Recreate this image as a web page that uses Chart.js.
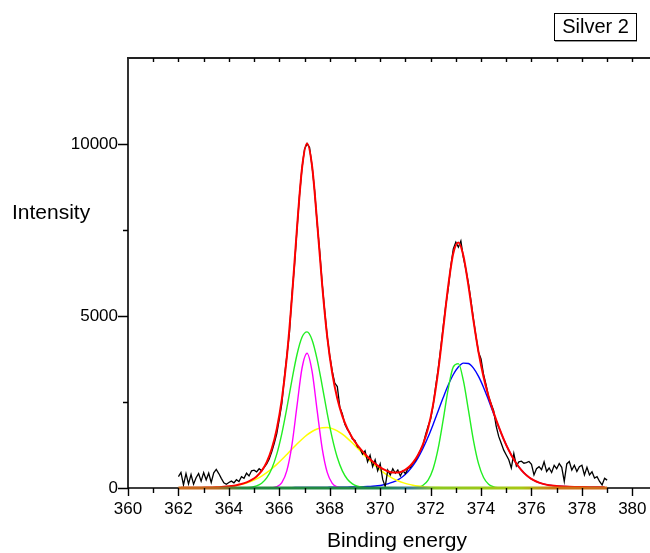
<!DOCTYPE html>
<html>
<head>
<meta charset="utf-8">
<script src="https://cdn.jsdelivr.net/npm/chart.js@4"></script>
<style>
  html, body { margin: 0; padding: 0; background: #fff; }
  canvas { display: block; }
</style>
</head>
<body>
<canvas id="spectrum" width="650" height="553"></canvas>
<script>
const FONT = '"Liberation Sans", Arial, sans-serif';

// Measured spectrum, 362.0 to 379.0 eV in 0.1 eV steps
const measuredStart = 362.0;
const measuredStep = 0.1;
const measured = [
  330, 450, 90, 420, 120, 390, 110, 300, 420, 200,
  450, 240, 430, 160, 440, 540, 420, 280, 150, 110,
  160, 200, 150, 240, 190, 330, 280, 430, 350, 500,
  520, 470, 560, 500, 600, 700, 840, 1050, 1300, 1580,
  2000, 2450, 3200, 3850, 4500, 5600, 6450, 7500, 8500, 9300,
  9850, 10010, 9900, 9350, 8650, 7700, 6900, 5950, 5150, 4400,
  3850, 3400, 3050, 2950, 2350, 2150, 1850, 1700, 1600, 1420,
  1380, 1200, 1150, 980, 1080, 760, 950, 620, 820, 500,
  700, 250, 40, 520, 380, 560, 430, 520, 350, 500,
  420, 560, 600, 720, 800, 950, 1100, 1250, 1550, 1800,
  2000, 2400, 2950, 3450, 4050, 4700, 5300, 5800, 6450, 6950,
  7150, 7000, 7180, 6700, 6350, 5950, 5450, 4900, 4400, 3950,
  3750, 3300, 3000, 2650, 2450, 2250, 1800, 1500, 1300, 1100,
  960, 820, 580, 1000, 640, 760, 780, 720, 740, 770,
  690, 380, 560, 620, 530, 760, 480, 580, 450, 660,
  560, 710, 600, 190, 700, 770, 520, 660, 480, 620,
  660, 380, 600, 380, 470, 290, 330, 190, 90, 280,
  230
];

// Fitted components, 362.1 to 378.9 eV in 0.2 eV steps
const fitStart = 362.1;
const fitStep = 0.2;

// 367.1 eV, broad
const peakGreen1 = [
  0, 0, 0, 0, 0, 0, 0, 0, 0, 0,
  0, 1, 3, 9, 25, 61, 140, 293, 562, 985,
  1582, 2328, 3138, 3874, 4381, 4538, 4305, 3741, 2977, 2170,
  1449, 886, 497, 255, 120, 51, 20, 7, 2, 0,
  0, 0, 0, 0, 0, 0, 0, 0, 0, 0,
  0, 0, 0, 0, 0, 0, 0, 0, 0, 0,
  0, 0, 0, 0, 0, 0, 0, 0, 0, 0,
  0, 0, 0, 0, 0, 0, 0, 0, 0, 0,
  0, 0, 0, 0, 0
];
// 367.1 eV, narrow
const peakMagenta = [
  0, 0, 0, 0, 0, 0, 0, 0, 0, 0,
  0, 0, 0, 0, 0, 0, 0, 1, 7, 37,
  156, 504, 1248, 2378, 3481, 3919, 3391, 2256, 1154, 453,
  137, 32, 6, 1, 0, 0, 0, 0, 0, 0,
  0, 0, 0, 0, 0, 0, 0, 0, 0, 0,
  0, 0, 0, 0, 0, 0, 0, 0, 0, 0,
  0, 0, 0, 0, 0, 0, 0, 0, 0, 0,
  0, 0, 0, 0, 0, 0, 0, 0, 0, 0,
  0, 0, 0, 0, 0
];
// 367.8 eV, wide
const peakYellow = [
  0, 1, 1, 2, 4, 6, 10, 15, 23, 35,
  52, 75, 106, 147, 200, 267, 348, 446, 560, 687,
  827, 976, 1129, 1278, 1418, 1542, 1643, 1715, 1754, 1757,
  1725, 1660, 1564, 1444, 1307, 1159, 1007, 857, 714, 584,
  467, 367, 282, 212, 156, 113, 80, 56, 38, 25,
  16, 11, 7, 4, 2, 1, 0, 0, 0, 0,
  0, 0, 0, 0, 0, 0, 0, 0, 0, 0,
  0, 0, 0, 0, 0, 0, 0, 0, 0, 0,
  0, 0, 0, 0, 0
];
// 373.0 eV, narrow
const peakGreen2 = [
  0, 0, 0, 0, 0, 0, 0, 0, 0, 0,
  0, 0, 0, 0, 0, 0, 0, 0, 0, 0,
  0, 0, 0, 0, 0, 0, 0, 0, 0, 0,
  0, 0, 0, 0, 0, 0, 0, 0, 0, 0,
  0, 0, 0, 0, 0, 1, 6, 23, 79, 229,
  560, 1150, 1987, 2886, 3523, 3616, 3120, 2263, 1380, 707,
  305, 110, 34, 9, 2, 0, 0, 0, 0, 0,
  0, 0, 0, 0, 0, 0, 0, 0, 0, 0,
  0, 0, 0, 0, 0
];
// 373.4 eV, broad
const peakBlue = [
  5, 5, 5, 5, 5, 6, 6, 6, 6, 7,
  7, 7, 8, 8, 8, 9, 9, 10, 10, 11,
  11, 12, 12, 13, 14, 15, 16, 17, 18, 19,
  21, 22, 24, 26, 29, 32, 37, 43, 52, 66,
  88, 120, 168, 237, 336, 471, 650, 878, 1157, 1483,
  1849, 2238, 2628, 2992, 3299, 3519, 3630, 3618, 3483, 3243,
  2923, 2551, 2159, 1773, 1414, 1097, 828, 610, 441, 313,
  221, 156, 112, 83, 63, 50, 42, 36, 31, 28,
  26, 24, 22, 20, 19
];
// Sum of the five components
const fitSum = [
  5, 6, 6, 7, 9, 12, 16, 21, 29, 42,
  59, 83, 117, 164, 233, 337, 497, 750, 1139, 1720,
  2576, 3820, 5527, 7543, 9294, 10014, 9355, 7729, 5903, 4399,
  3332, 2600, 2091, 1726, 1456, 1242, 1064, 907, 768, 650,
  555, 487, 450, 449, 492, 585, 736, 957, 1274, 1737,
  2425, 3399, 4622, 5882, 6824, 7136, 6750, 5881, 4863, 3950,
  3228, 2661, 2193, 1782, 1416, 1097, 828, 610, 441, 313,
  221, 156, 112, 83, 63, 50, 42, 36, 31, 28,
  26, 24, 22, 20, 19
];

// Background level of the fit
const baselineEnergy = [362, 379];
const baselineLevel = [0, 0];

// Axis ranges and ticks
const xRange = [360, 380.7];
const yRange = [0, 12500];
const xTickValues = [360, 361, 362, 363, 364, 365, 366, 367, 368, 369, 370,
                     371, 372, 373, 374, 375, 376, 377, 378, 379, 380];
const yTickValues = [0, 2500, 5000, 7500, 10000];

const xTitle = 'Binding energy';
const yTitle = 'Intensity';
const legendLabel = 'Silver 2';

function series(start, step, values) {
  return values.map((v, i) => ({ x: +(start + i * step).toFixed(2), y: v }));
}

function baselineGradient(context) {
  const chart = context.chart;
  if (!chart.chartArea) return '#1e8a46';
  const xs = chart.scales.x;
  const x0 = xs.getPixelForValue(362), x1 = xs.getPixelForValue(379);
  const g = chart.ctx.createLinearGradient(x0, 0, x1, 0);
  g.addColorStop(0.00, '#cc6a1a');
  g.addColorStop(0.09, '#b8661e');
  g.addColorStop(0.15, '#24883e');
  g.addColorStop(0.48, '#1e8a46');
  g.addColorStop(0.54, '#3a7c96');
  g.addColorStop(0.60, '#8cc81e');
  g.addColorStop(0.80, '#a8c814');
  g.addColorStop(0.88, '#cc7414');
  g.addColorStop(1.00, '#cc6a1a');
  return g;
}

const fitLine = (label, values, color, width) => ({
  label,
  data: series(fitStart, fitStep, values),
  borderColor: color,
  borderWidth: width,
  pointRadius: 0,
  cubicInterpolationMode: 'monotone',
  clip: false
});

const axisFrame = {
  id: 'axisFrame',
  beforeDatasetsDraw(chart) {
    const { ctx, chartArea: a } = chart;
    ctx.save();
    ctx.strokeStyle = '#000';
    ctx.lineWidth = 1.6;
    ctx.beginPath();
    ctx.moveTo(a.left, a.top);
    ctx.lineTo(a.left, a.bottom);
    ctx.moveTo(a.left, a.bottom);
    ctx.lineTo(a.right, a.bottom);
    ctx.stroke();
    ctx.strokeStyle = '#222';
    ctx.lineWidth = 2;
    ctx.beginPath();
    ctx.moveTo(a.left - 1, a.top);
    ctx.lineTo(a.right, a.top);
    ctx.stroke();
    ctx.restore();
  },
  afterDraw(chart) {
    const { ctx, chartArea: a, scales: { x, y } } = chart;
    ctx.save();
    ctx.strokeStyle = '#000';
    ctx.lineWidth = 1.4;
    ctx.beginPath();
    xTickValues.forEach(v => {
      const px = Math.round(x.getPixelForValue(v)) + 0.5;
      const len = v % 2 === 0 ? 8 : 5;
      ctx.moveTo(px, a.bottom);
      ctx.lineTo(px, a.bottom + len);
      if (v > xRange[0]) {
        ctx.moveTo(px, a.top);
        ctx.lineTo(px, a.top + 4);
      }
    });
    yTickValues.forEach(v => {
      const py = Math.round(y.getPixelForValue(v)) + 0.5;
      const len = v % 5000 === 0 ? 10 : 5;
      ctx.moveTo(a.left, py);
      ctx.lineTo(a.left - len, py);
    });
    ctx.stroke();

    ctx.fillStyle = '#000';
    ctx.font = '21px ' + FONT;
    ctx.textBaseline = 'middle';
    ctx.textAlign = 'center';
    ctx.fillText(xTitle, 397, 541);
    ctx.textAlign = 'left';
    ctx.fillText(yTitle, 12, 213);

    // legend box
    ctx.fillStyle = '#fff';
    ctx.fillRect(554, 13, 82, 28);
    ctx.strokeStyle = '#000';
    ctx.lineWidth = 1;
    ctx.strokeRect(554.5, 13.5, 82, 27);
    ctx.strokeStyle = '#999';
    ctx.beginPath();
    ctx.moveTo(555, 41.5);
    ctx.lineTo(637, 41.5);
    ctx.stroke();
    ctx.fillStyle = '#000';
    ctx.font = '20px ' + FONT;
    ctx.textAlign = 'center';
    ctx.fillText(legendLabel, 595.5, 27.5);
    ctx.restore();
  }
};

new Chart(document.getElementById('spectrum'), {
  type: 'line',
  data: {
    datasets: [
      {
        label: 'Background',
        data: baselineEnergy.map((e, i) => ({ x: e, y: baselineLevel[i] })),
        borderColor: baselineGradient,
        borderWidth: 3,
        pointRadius: 0,
        clip: false
      },
      fitLine('Fit', fitSum, '#ff0000', 2),
      {
        label: 'Measured',
        data: series(measuredStart, measuredStep, measured),
        borderColor: '#000000',
        borderWidth: 1.3,
        pointRadius: 0,
        tension: 0,
        clip: false
      },
      fitLine('Peak 2', peakMagenta, '#ff00ff', 1.4),
      fitLine('Peak 1', peakGreen1, '#22ee22', 1.4),
      fitLine('Peak 3', peakYellow, '#ffff00', 1.5),
      fitLine('Peak 4', peakGreen2, '#22ee22', 1.4),
      fitLine('Peak 5', peakBlue, '#0000ff', 1.4)
    ]
  },
  options: {
    responsive: false,
    animation: false,
    devicePixelRatio: 1,
    layout: { padding: { top: 58, left: 0, right: 0, bottom: 0 } },
    plugins: {
      legend: { display: false },
      tooltip: { enabled: false }
    },
    scales: {
      x: {
        type: 'linear',
        min: xRange[0],
        max: xRange[1],
        border: { display: false },
        grid: { display: false, drawTicks: false },
        afterFit: s => { s.height = 65; s.paddingLeft = 0; s.paddingRight = 0; },
        afterBuildTicks: s => { s.ticks = xTickValues.map(v => ({ value: v })); },
        ticks: {
          padding: 11,
          color: '#000',
          font: { family: FONT, size: 17 },
          maxRotation: 0,
          autoSkip: false,
          callback: v => (v % 2 === 0 ? String(v) : '')
        }
      },
      y: {
        min: yRange[0],
        max: yRange[1],
        border: { display: false },
        grid: { display: false, drawTicks: false },
        afterFit: s => { s.width = 128; s.paddingTop = 0; s.paddingBottom = 0; },
        afterBuildTicks: s => { s.ticks = yTickValues.map(v => ({ value: v })); },
        ticks: {
          padding: 10,
          color: '#000',
          font: { family: FONT, size: 17 },
          autoSkip: false,
          callback: v => (v % 5000 === 0 ? String(v) : '')
        }
      }
    }
  },
  plugins: [axisFrame]
});
</script>
</body>
</html>
